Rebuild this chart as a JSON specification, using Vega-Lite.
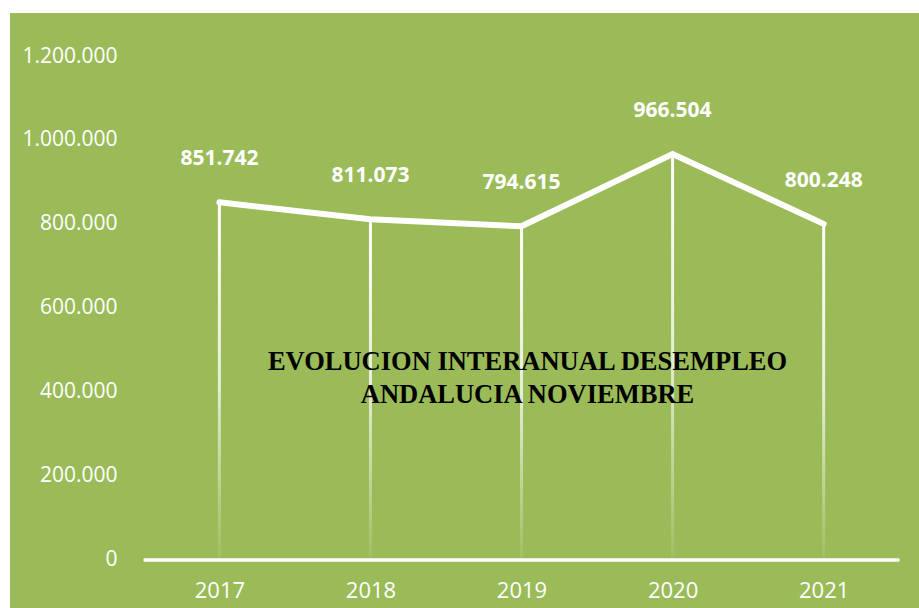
{
  "$schema": "https://vega.github.io/schema/vega-lite/v6.json",
  "width": 909,
  "height": 595,
  "autosize": {"type": "none"},
  "padding": {"left": 10, "top": 13, "right": 0, "bottom": 0},
  "background": "#ffffff",
  "config": {
    "view": {"fill": "#9BBB59", "stroke": null},
    "locale": {"number": {"decimal": ",", "thousands": ".", "grouping": [3], "currency": ["", " €"]}},
    "font": "Open Sans"
  },
  "title": {
    "text": ["EVOLUCION INTERANUAL DESEMPLEO", "ANDALUCIA NOVIEMBRE"],
    "font": "Liberation Serif",
    "fontSize": 26.5,
    "fontWeight": "bold",
    "color": "#000000",
    "anchor": "middle",
    "frame": "group",
    "orient": "top",
    "offset": -416,
    "dx": 63,
    "lineHeight": 33,
    "baseline": "alphabetic"
  },
  "data": {
    "values": [
      {"year": 2017, "value": 851742},
      {"year": 2018, "value": 811073},
      {"year": 2019, "value": 794615},
      {"year": 2020, "value": 966504},
      {"year": 2021, "value": 800248}
    ]
  },
  "encoding": {
    "x": {
      "field": "year",
      "type": "quantitative",
      "scale": {"domain": [2015.647, 2021.598], "nice": false, "zero": false},
      "axis": {
        "values": [2017, 2018, 2019, 2020, 2021],
        "format": "d",
        "title": null,
        "domain": false,
        "ticks": false,
        "tickSize": 0,
        "grid": false,
        "offset": -48,
        "labelPadding": 30,
        "labelBaseline": "middle",
        "labelColor": "#ffffff",
        "labelFont": "Open Sans",
        "labelFontSize": 22,
        "labelFlush": false
      }
    },
    "y": {
      "field": "value",
      "type": "quantitative",
      "scale": {"domain": [-114286, 1302381], "nice": false, "zero": false},
      "axis": {
        "values": [0, 200000, 400000, 600000, 800000, 1000000, 1200000],
        "format": ",d",
        "title": null,
        "domain": false,
        "ticks": false,
        "tickSize": 0,
        "grid": false,
        "offset": -107,
        "labelPadding": 0,
        "labelColor": "#ffffff",
        "labelFont": "Open Sans",
        "labelFontSize": 21
      }
    }
  },
  "layer": [
    {
      "mark": {
        "type": "bar",
        "size": 3,
        "fill": {
          "gradient": "linear",
          "x1": 0, "y1": 0, "x2": 0, "y2": 1,
          "stops": [
            {"offset": 0, "color": "rgba(255,255,255,1)"},
            {"offset": 0.5, "color": "rgba(255,255,255,0.75)"},
            {"offset": 1, "color": "rgba(255,255,255,0.05)"}
          ]
        }
      },
      "encoding": {"y2": {"datum": 0}}
    },
    {
      "mark": {"type": "rule", "color": "#ffffff", "strokeWidth": 2.5},
      "encoding": {
        "x": {"datum": 2016.5},
        "x2": {"datum": 2021.5},
        "y": {"datum": 0}
      }
    },
    {
      "mark": {"type": "line", "color": "#ffffff", "strokeWidth": 6, "strokeCap": "round", "strokeJoin": "miter"}
    },
    {
      "mark": {"type": "text", "color": "#ffffff", "font": "Open Sans", "fontSize": 21, "fontWeight": "bold", "baseline": "middle", "dy": -43},
      "encoding": {"text": {"field": "value", "type": "quantitative", "format": ",d"}}
    }
  ]
}
